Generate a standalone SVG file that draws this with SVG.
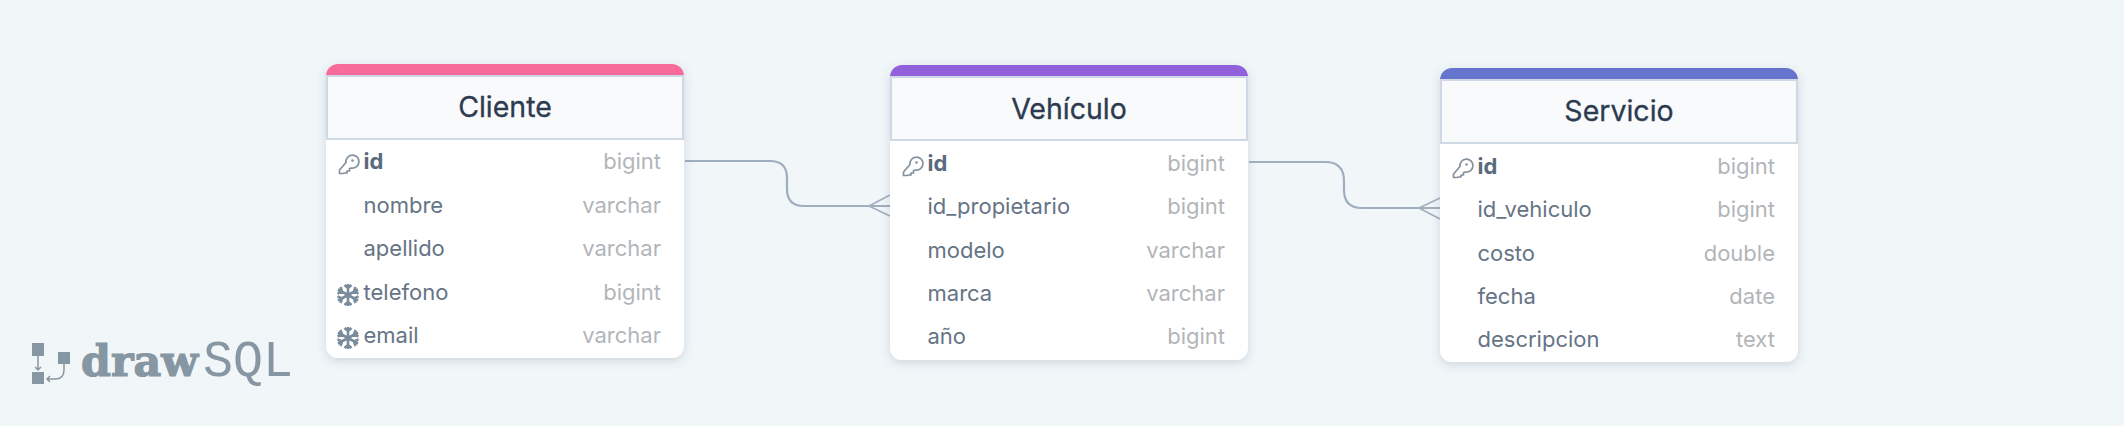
<svg xmlns="http://www.w3.org/2000/svg" width="2124" height="426" viewBox="0 0 2124 426">
<style>
text{font-family:Inter,"Noto Sans",sans-serif}
.title{font-size:28.500px;fill:#2d3b50;text-anchor:middle;font-weight:400;stroke:#2d3b50;stroke-width:.3}
.f{font-size:22px;fill:#657485;font-weight:400}
.b{font-weight:700;fill:#5a6a7c}
.t{font-size:22px;fill:#b2b5b9;text-anchor:end}
.hd{fill:#f8fafc;stroke:#cfd9e6;stroke-width:2}
.c{fill:none;stroke:#a0aec0;stroke-width:2.2}
.cf{fill:none;stroke:#a0aec0;stroke-width:1.6}
.k{fill:none;stroke:#84919f;stroke-width:1.7;stroke-linejoin:round}
.s{stroke:#7a8b9b;stroke-width:2.6;fill:none}
</style>
<defs>
<filter id="sh" x="-10%" y="-10%" width="120%" height="125%"><feDropShadow dx="0" dy="3" stdDeviation="5" flood-color="#4a5a70" flood-opacity="0.2"/></filter>
<g id="key"><path class="k" d="M-2 -1.500A6.500 6.500 0 1 1 3.500 4L1.500 4.500V7H-1V9H-3.500L-5 9.500H-8.500V6L-2 -1.500Z"/><circle cx="4.500" cy="-3.500" r="1.300" fill="#84919f"/></g>
<g id="snow"><path class="s" d="M0 -11V11M-10 -5.500L10 5.500M-10 5.500L10 -5.500M-3.500 -10L0 -7L3.500 -10M-3.500 10L0 7L3.500 10M-10.500 -1.500L-6 -3.500L-7.500 -8M10.500 -1.500L6 -3.500L7.500 -8M-10.500 1.500L-6 3.500L-7.500 8M10.500 1.500L6 3.500L7.500 8"/></g>
</defs>
<rect width="2124" height="426" fill="#f1f6f9"/>
<g id="connectors">
<path class="c" d="M685 161H770Q787 161 787 178V189Q787 206 804 206H890"/>
<path class="cf" d="M869 206L890 195M869 206L890 216"/>
<path class="c" d="M1249 162H1325Q1344 162 1344 181V190Q1344 208 1362 208H1440"/>
<path class="cf" d="M1419 208L1440 198M1419 208L1440 219"/>
</g>
<g id="table-cliente">
<rect x="326" y="64" width="358" height="294" rx="12" fill="#fff" filter="url(#sh)"/>
<path d="M326 76A12 12 0 0 1 338 64H672A12 12 0 0 1 684 76Z" fill="#f76b9a"/>
<rect x="327" y="76" width="356" height="63" class="hd"/>
<text class="title" x="505" y="117">Cliente</text>
<use href="#key" x="348" y="164"/><text class="f b" x="363.500" y="169">id</text><text class="t" x="661" y="169">bigint</text>
<text class="f" x="363.500" y="213">nombre</text><text class="t" x="661" y="213">varchar</text>
<text class="f" x="363.500" y="256">apellido</text><text class="t" x="661" y="256">varchar</text>
<use href="#snow" x="348" y="295"/><text class="f" x="363.500" y="300">telefono</text><text class="t" x="661" y="300">bigint</text>
<use href="#snow" x="348" y="338"/><text class="f" x="363.500" y="343">email</text><text class="t" x="661" y="343">varchar</text>
</g>
<g id="table-vehiculo">
<rect x="890" y="65" width="358" height="295" rx="12" fill="#fff" filter="url(#sh)"/>
<path d="M890 77A12 12 0 0 1 902 65H1236A12 12 0 0 1 1248 77Z" fill="#9161dc"/>
<rect x="891" y="77" width="356" height="63" class="hd"/>
<text class="title" x="1069" y="119">Vehículo</text>
<use href="#key" x="912" y="166"/><text class="f b" x="927.500" y="171">id</text><text class="t" x="1225" y="171">bigint</text>
<text class="f" x="927.500" y="214">id_propietario</text><text class="t" x="1225" y="214">bigint</text>
<text class="f" x="927.500" y="258">modelo</text><text class="t" x="1225" y="258">varchar</text>
<text class="f" x="927.500" y="301">marca</text><text class="t" x="1225" y="301">varchar</text>
<text class="f" x="927.500" y="344">año</text><text class="t" x="1225" y="344">bigint</text>
</g>
<g id="table-servicio">
<rect x="1440" y="68" width="358" height="294" rx="12" fill="#fff" filter="url(#sh)"/>
<path d="M1440 80A12 12 0 0 1 1452 68H1786A12 12 0 0 1 1798 80Z" fill="#6574cd"/>
<rect x="1441" y="80" width="356" height="63" class="hd"/>
<text class="title" x="1619" y="121">Servicio</text>
<use href="#key" x="1462" y="168"/><text class="f b" x="1477.500" y="174">id</text><text class="t" x="1775" y="174">bigint</text>
<text class="f" x="1477.500" y="217">id_vehiculo</text><text class="t" x="1775" y="217">bigint</text>
<text class="f" x="1477.500" y="261">costo</text><text class="t" x="1775" y="261">double</text>
<text class="f" x="1477.500" y="304">fecha</text><text class="t" x="1775" y="304">date</text>
<text class="f" x="1477.500" y="347">descripcion</text><text class="t" x="1775" y="347">text</text>
</g>
<g id="logo">
<rect x="32" y="343" width="12" height="13" fill="#8796a3"/>
<rect x="32" y="372" width="12" height="12" fill="#8796a3"/>
<rect x="58" y="352" width="12" height="12" fill="#8796a3"/>
<path d="M38 356V370M35 367L38 370L41 367M64 364V370Q64 379 55 379H47M50 376L47 379L50 382" fill="none" stroke="#8796a3" stroke-width="1.500"/>
<text x="81" y="376" style="font-family:'DejaVu Serif',serif;font-weight:700;font-size:42px;fill:#8796a3;stroke:#8796a3;stroke-width:1.200" textLength="117" lengthAdjust="spacingAndGlyphs">draw</text>
<text x="203" y="376" style="font-family:'Liberation Mono',monospace;font-size:52px;fill:#8796a3" textLength="90" lengthAdjust="spacingAndGlyphs">SQL</text>
</g>
</svg>
